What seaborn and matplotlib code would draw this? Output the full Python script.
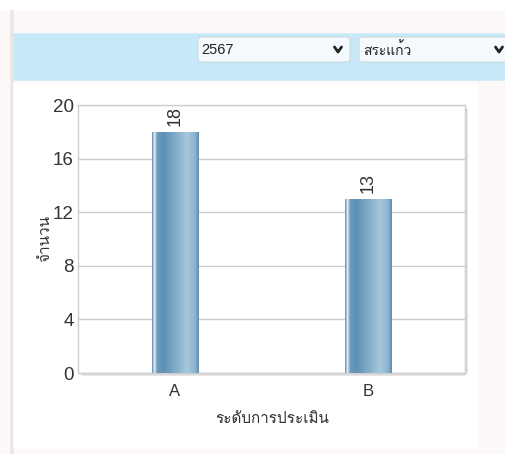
import numpy as np
import pandas as pd
import seaborn as sns
import matplotlib
matplotlib.use('Agg')
import matplotlib.pyplot as plt
from matplotlib import font_manager, ft2font
from matplotlib.patches import FancyBboxPatch, Rectangle
from matplotlib.lines import Line2D
from matplotlib.transforms import IdentityTransform
from matplotlib.colors import LinearSegmentedColormap

# data
levels = ['A', 'B']
counts = [18, 13]
y_ticks = [0, 4, 8, 12, 16, 20]
year_label = '2567'
province_label = 'สระแก้ว'
x_title = 'ระดับการประเมิน'
y_title = 'จำนวน'


def find_thai_font():
    # pick any installed font that has Thai glyphs
    for f in font_manager.fontManager.ttflist:
        try:
            ft = ft2font.FT2Font(f.fname)
            if ft.get_char_index(0x0E01) and ft.get_char_index(0x0E33):
                return f.name
        except Exception:
            continue
    return None


sns.set_theme(style='white')
thai = find_thai_font()
fams = ['Liberation Sans', 'DejaVu Sans']
thai_fams = ([thai] if thai else []) + fams
plt.rcParams['font.family'] = fams

W, H = 505, 454
fig = plt.figure(figsize=(W / 100, H / 100), dpi=100)
fig.patch.set_facecolor('#fdf8f8')


def box(x0, y0, x1, y1, rounding=0, **kw):
    # pixel box, y measured from the top
    p = FancyBboxPatch((x0, H - y1), x1 - x0, y1 - y0,
                       boxstyle='round,pad=0,rounding_size=%s' % rounding,
                       transform=IdentityTransform(), **kw)
    fig.add_artist(p)
    return p


def px_text(x, y, s, **kw):
    fig.text(x / W, 1 - y / H, s, **kw)


# page furniture
box(0, 0, W, 10, color='white', zorder=-6)
box(11, 10, 13, H, color='#ebe6e6', zorder=-5)
box(14, 34, W + 5, 80, color='#c5e9f8', zorder=-5)
box(198, 37, 350, 62, rounding=3, facecolor='#f4fafd', edgecolor='#cfd9de', lw=0.8, zorder=-4)
box(359, 37, W + 8, 62, rounding=3, facecolor='#f4fafd', edgecolor='#cfd9de', lw=0.8, zorder=-4)
px_text(201, 50, year_label, fontsize=10.5, va='center', color='#222222')
px_text(363, 50, province_label, fontsize=10, va='center', color='#222222', family=thai_fams)
for cx in (338, 499):
    fig.add_artist(Line2D([cx - 3.5, cx, cx + 3.5], [H - 47, H - 52, H - 47],
                          transform=IdentityTransform(), color='#222222', lw=2, zorder=-3))
box(14, 84, 478, 447, color='white', zorder=-5)

# plot area and its soft shadow
L, R, T, B = 78, 465, 105, 373
box(L + 2, T + 2, R + 2, B + 2, rounding=4, color='#dcdcdc', zorder=-2)
ax = fig.add_axes([L / W, 1 - B / H, (R - L) / W, (B - T) / H])
ax.set_facecolor('white')

df = pd.DataFrame({'level': levels, 'count': counts})
sns.barplot(data=df, x='level', y='count', width=0.24, color='#6a9ec2',
            saturation=1, ax=ax, zorder=3)

# glossy horizontal gradient clipped to each bar
cmap = LinearSegmentedColormap.from_list('gloss', [
    (0.00, '#5a87aa'), (0.05, '#e9f2f8'), (0.11, '#6b9bbd'), (0.25, '#5e91b6'),
    (0.75, '#a7c7dd'), (0.92, '#8db3cf'), (1.00, '#5d8cb0')])
grad = np.linspace(0, 1, 256).reshape(1, -1)
for bar in ax.patches:
    x0, w, h = bar.get_x(), bar.get_width(), bar.get_height()
    im = ax.imshow(grad, cmap=cmap, extent=[x0, x0 + w, 0, h], aspect='auto', zorder=4)
    im.set_clip_path(bar)
    bar.set_edgecolor('none')

ax.bar_label(ax.containers[0], labels=[str(v) for v in counts], rotation=90,
             padding=4, fontsize=13, color='#333333')

ax.set_xlim(-0.5, 1.5)
ax.set_ylim(0, 20)
ax.set_yticks(y_ticks)
ax.yaxis.grid(True, color='#cccccc', lw=1)
ax.set_axisbelow(True)
ax.tick_params(axis='y', length=0, pad=3, labelsize=13.5, labelcolor='#333333')
ax.tick_params(axis='x', length=0, pad=8, labelsize=12, labelcolor='#333333')
for s in ax.spines.values():
    s.set_color('#cfcfcf')
    s.set_linewidth(1)
ax.set_xlabel('')
ax.set_ylabel('')

px_text(272, 419, x_title, ha='center', va='center', fontsize=11, color='#333333', family=thai_fams)
px_text(45, 238, y_title, ha='center', va='center', rotation=90, fontsize=11,
        color='#333333', family=thai_fams)

fig.savefig('out.png', dpi=100)
